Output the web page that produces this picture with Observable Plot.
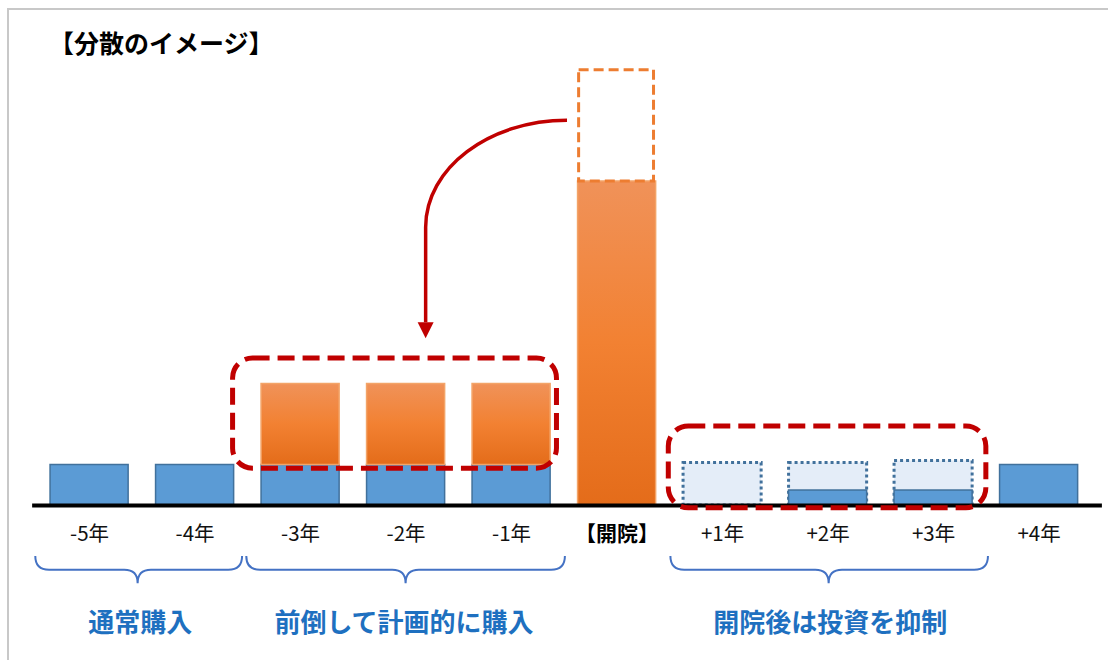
<!DOCTYPE html>
<html><head><meta charset="utf-8">
<script src="https://cdn.jsdelivr.net/npm/d3@7"></script>
<script src="https://cdn.jsdelivr.net/npm/@observablehq/plot@0.6"></script>
<style>
html,body{margin:0;padding:0;background:#fff;}
#wrap{position:relative;width:1108px;height:660px;overflow:hidden;}
#frame{position:absolute;left:7px;top:8px;width:1200px;height:800px;border-left:2px solid #c8c8c8;border-top:2px solid #c8c8c8;}
#title{position:absolute;left:49px;top:27px;font-family:"Noto Sans CJK JP";font-weight:bold;font-size:25px;line-height:30px;color:#000;}
#chart{position:absolute;left:0;top:0;}
</style></head><body>
<div id="wrap"><div id="frame"></div><div id="chart"></div><div id="title">【分散のイメージ】</div></div>
<script>
// ---- data ----
const categories = ["-5年","-4年","-3年","-2年","-1年","【開院】","+1年","+2年","+3年","+4年"];
const highlightCategory = "【開院】";
const blueValues    = [1, 1, 1, 1, 1, 0, 0, 0.37, 0.37, 1];
const orangeValues  = [0, 0, 2, 2, 2, 8, 0, 0, 0, 0];
const plannedValues = [0, 0, 0, 0, 0, 0, 1.05, 1.05, 1.1, 0];
const ghostTops     = [0, 0, 0, 0, 0, 10.75, 0, 0, 0, 0];
const groupLabels = ["通常購入", "前倒して計画的に購入", "開院後は投資を抑制"];
const groupCenters = [0.48, 2.98, 7.02];
const braceStart = [-0.51, 1.49, 5.51];
const braceEnd   = [1.45, 4.51, 8.52];
const braceTip   = [0.46, 3.0, 7.01];
const boxX1 = [1.36, 5.49];
const boxX2 = [4.43, 8.50];
const boxY1 = [0.91, -0.07];
const boxY2 = [3.63, 1.95];
const arrowFrom = [4.53, 9.5];
const arrowCorner = [3.19, 6.86];
const arrowTo = [3.19, 4.12];

const rows = categories.map((c, i) => ({
  i, c,
  blue: blueValues[i],
  orange: orangeValues[i],
  planned: plannedValues[i],
  ghost: ghostTops[i]
}));
const boxes = boxX1.map((x1, k) => ({x1, x2: boxX2[k], y1: boxY1[k], y2: boxY2[k]}));
const groups = groupLabels.map((t, k) => ({t, x: groupCenters[k]}));
const hw = 0.37;
const font = "Noto Sans CJK JP";

function braceMark(index, scales) {
  const {x, y} = scales;
  const g = d3.create("svg:g").attr("fill", "none").attr("stroke", "#4472c4").attr("stroke-width", 2);
  braceStart.forEach((s, k) => {
    const X1 = x(s), X2 = x(braceEnd[k]), XM = x(braceTip[k]);
    const Y0 = y(-1.26), Y1 = y(-1.6), Y2 = y(-1.93);
    const r = Y1 - Y0, r2 = Y2 - Y1;
    g.append("path").attr("d",
      `M${X1},${Y0}Q${X1},${Y1} ${X1 + r},${Y1}L${XM - r2},${Y1}Q${XM},${Y1} ${XM},${Y2}` +
      `Q${XM},${Y1} ${XM + r2},${Y1}L${X2 - r},${Y1}Q${X2},${Y1} ${X2},${Y0}`);
  });
  return g.node();
}

function arrowMark(index, scales) {
  const {x, y} = scales;
  const sx = x(arrowFrom[0]), sy = y(arrowFrom[1]);
  const cx = x(arrowCorner[0]), cy = y(arrowCorner[1]);
  const ty = y(arrowTo[1]);
  const k = 0.5523;
  const head = 16;
  const g = d3.create("svg:g");
  g.append("path").attr("fill", "none").attr("stroke", "#c00000").attr("stroke-width", 3.5)
    .attr("d", `M${sx},${sy}C${sx - (sx - cx) * k},${sy} ${cx},${cy - (cy - sy) * k} ${cx},${cy}L${cx},${ty - head}`);
  g.append("path").attr("fill", "#c00000")
    .attr("d", `M${cx - 8},${ty - head}L${cx + 8},${ty - head}L${cx},${ty}Z`);
  return g.node();
}

const chart = Plot.plot({
  width: 1108, height: 660,
  margin: 0,
  style: {background: "transparent", fontFamily: font},
  x: {type: "linear", domain: [-0.5, 9.5], range: [36.35, 1091.35], axis: null},
  y: {type: "linear", domain: [0, 11], range: [505, 59.5], axis: null},
  marks: [
    Plot.rect(rows.filter(d => d.planned > 0), {
      x1: d => d.i - hw, x2: d => d.i + hw, y1: 0, y2: "planned",
      fill: "#e4edf8", stroke: "#41719c", strokeWidth: 3, strokeDasharray: "3 3"
    }),
    Plot.rect(rows.filter(d => d.blue > 0), {
      x1: d => d.i - hw, x2: d => d.i + hw, y1: 0, y2: "blue",
      fill: "#5b9bd5", stroke: "#41719c", strokeWidth: 1.5
    }),
    Plot.rect(rows.filter(d => d.orange > 0), {
      x1: d => d.i - hw, x2: d => d.i + hw, y1: "blue", y2: d => d.blue + d.orange,
      fill: "url(#orangeGrad)", stroke: "#f3a468", strokeWidth: 1.5
    }),
    Plot.rect(rows.filter(d => d.ghost > 0), {
      x1: d => d.i - hw + 0.01, x2: d => d.i + hw - 0.02, y1: d => d.blue + d.orange, y2: "ghost",
      fill: "none", stroke: "#ed7d31", strokeWidth: 3, strokeDasharray: "10 5"
    }),
    Plot.ruleY([0], {x1: -0.54, x2: 9.6, stroke: "#000", strokeWidth: 4}),
    Plot.rect(boxes, {
      x1: "x1", x2: "x2", y1: "y1", y2: "y2", rx: 20,
      fill: "none", stroke: "#c00000", strokeWidth: 5, strokeDasharray: "17 8"
    }),
    arrowMark,
    Plot.text(rows.filter(d => d.c !== highlightCategory), {
      x: "i", y: -0.72, text: "c", fontSize: 20.5, fill: "#111", fontFamily: font
    }),
    Plot.text(rows.filter(d => d.c === highlightCategory), {
      x: "i", y: -0.72, text: "c", fontSize: 21, fill: "#000", fontFamily: font, fontWeight: "bold"
    }),
    braceMark,
    Plot.text(groups, {
      x: "x", y: -2.91, text: "t", fontSize: 26, fontWeight: "bold", fill: "#1e70c0", fontFamily: font
    })
  ]
});

const defs = d3.select(chart).insert("defs", ":first-child");
const grad = defs.append("linearGradient").attr("id", "orangeGrad")
  .attr("x1", 0).attr("y1", 0).attr("x2", 0).attr("y2", 1);
grad.append("stop").attr("offset", "0%").attr("stop-color", "#f09259");
grad.append("stop").attr("offset", "50%").attr("stop-color", "#f28132");
grad.append("stop").attr("offset", "100%").attr("stop-color", "#e46c1a");

document.getElementById("chart").appendChild(chart);
</script>
</body></html>
